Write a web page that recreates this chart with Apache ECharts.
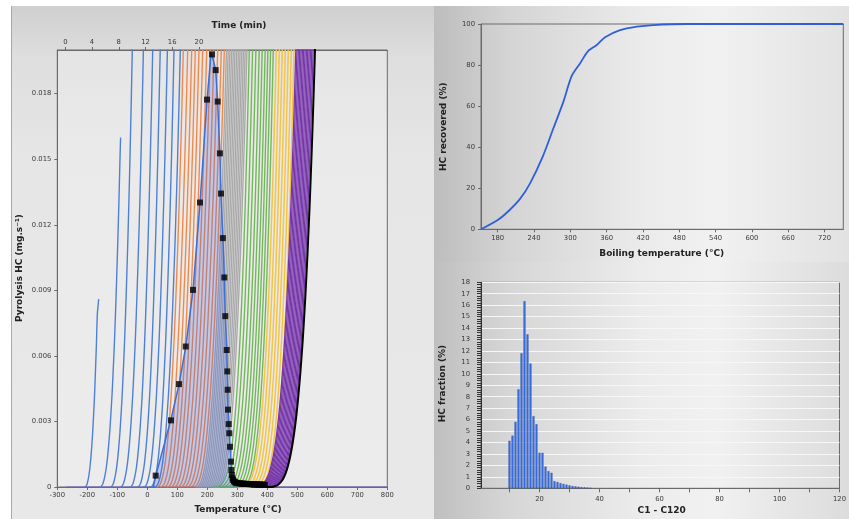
<!DOCTYPE html>
<html><head><meta charset="utf-8">
<script src="https://cdn.jsdelivr.net/npm/echarts@6/dist/echarts.min.js"></script>
<style>
html,body{margin:0;padding:0;background:#fff;}
#wrap{position:relative;width:849px;height:519px;overflow:hidden;}
.pan{position:absolute;}
#pl{left:11px;top:6px;width:423px;height:513px;border-left:1px solid #a8a8a8;background:linear-gradient(180deg,#cfcfcf 0%,#dedede 10%,#e6e6e6 30%,#e8e8e8 100%);}
#ptr{left:434px;top:6px;width:415px;height:256px;background:linear-gradient(90deg,#bdbdbd 0%,#d4d4d4 18%,#ebebeb 50%,#f1f1f1 68%,#e2e2e2 100%);}
#pbr{left:434px;top:262px;width:415px;height:257px;background:linear-gradient(90deg,#bfbfbf 0%,#d6d6d6 18%,#ececec 50%,#f1f1f1 68%,#dcdcdc 100%);}
#c{position:absolute;left:0;top:0;width:849px;height:519px;}
</style>
</head><body>
<div id="wrap"><div class="pan" id="pl"></div><div class="pan" id="ptr"></div><div class="pan" id="pbr"></div><div id="c"></div></div>
<script>
// ================= LEFT PANEL DATA =================
const tempTicks = [-300,-200,-100,0,100,200,300,400,500,600,700,800];
const timeTicks = [0,4,8,12,16,20];
const hcTicks = [0,0.003,0.006,0.009,0.012,0.015,0.018];

// curve shapes: fraction of the way from a curve's foot to where it reaches 0.02, and value
const shapeU  = [0,0.05,0.1,0.15,0.2,0.25,0.3,0.35,0.4,0.45,0.5,0.55,0.6,0.65,0.7,0.75,0.8,0.85,0.9,0.95,1,1.04];
// early curves (blue / orange / gray)
const earlyY  = [0,0.000008,0.00005,0.00014,0.00031,0.00055,0.00087,0.0013,0.00185,0.0025,0.0033,0.0042,0.0053,0.0065,0.0079,0.0095,0.0112,0.0131,0.0152,0.0175,0.02,0.0221];
// late curves (green / yellow / purple / black)
const lateY   = [0,0.000001,0.000003,0.000015,0.000044,0.000105,0.00021,0.00037,0.00061,0.00096,0.00144,0.00207,0.00287,0.00388,0.00516,0.0067,0.00856,0.01078,0.0134,0.01646,0.02,0.0232];

// foot temperature and temperature reaching 0.02, for each curve
const blueFoot   = [-210,-160,-125,-92,-60,-35,-14,8,22];
const blueTop    = [-148,-83,-50,-13,18,43,67,89,110];
const blueEndT   = [-162,-89];
const blueEndV   = [0.0086,0.016];
const orangeFoot = [30,42,53,64,75,86,97,108,119,130,141,152];
const orangeTop  = [120,134.7,148,160,172.3,184.7,198,210,222.3,234.7,246.7,256.7];
const grayFoot   = [160,166,172,178,184,190,196,202,208,214,220,226,232];
const grayTop    = [264,269.7,275.3,281,286.7,292.3,298,303.7,309.3,315,320.7,326.3,332];
const greenFoot  = [215,225,236,247,257,267,277,287,297];
const greenTop   = [340,351,362,373,383,393,402,411,420];
const yellowFoot = [300,310,320,330,340,350,360];
const yellowTop  = [430,440,450,460,470,480,489];
const purpleFoot = [345,348,352,356,360,364,368,372,376,380,384,388,391,394];
const purpleTop  = [495,499,503.5,508,512.5,517,521.5,526,530.5,535,539.5,544,548.5,553];
const blackFoot  = [395];
const blackTop   = [559];

// pyrolysis peak
const peakT = [20,28,79,105.7,128,152.3,175.7,199,213,228,234.6,242,245.6,252,256.7,260,264.7,266.7,268,269,271.3,273.3,275.7,279,280,283,290];
const peakV = [0,0.0005,0.0031,0.0047,0.0064,0.009,0.013,0.0177,0.0199,0.0191,0.0176,0.0153,0.0134,0.0114,0.0096,0.0078,0.0063,0.0053,0.0045,0.0035,0.0029,0.0025,0.0018,0.0012,0.0008,0.0003,0];

// measured points (squares)
const markT = [28,79,105.7,128,152.3,175.7,199,215.7,228,234.6,242,245.6,252,256.7,260,264.7,266.7,268,269,271.3,273.3,275.7,279,280,282,284,286,289,292,296,300,304,308,312,316,320,324,328,332,336,340,344,348,352,356,360,364,368,372,376,380,384,388,392];
const markV = [0.00052,0.00305,0.00471,0.00643,0.00902,0.01302,0.01773,0.0198,0.01908,0.01764,0.01527,0.01343,0.01139,0.00959,0.00782,0.00627,0.00529,0.00445,0.00354,0.00288,0.00246,0.00184,0.00116,0.00078,0.00055,0.0004,0.00032,0.00026,0.00022,0.0002,0.00018,0.00017,0.00016,0.00016,0.00015,0.00015,0.00015,0.00014,0.00014,0.00014,0.00013,0.00013,0.00013,0.00013,0.00012,0.00012,0.00012,0.00012,0.00011,0.00011,0.00011,0.00011,0.0001,0.0001];

// ================= TOP RIGHT DATA =================
const bpTicks = [180,240,300,360,420,480,540,600,660,720];
const bpT = [152.4,180,197.6,216.9,233.5,254.4,272,288.6,302.3,316,330,343.7,357.4,382,409.8,437,492,560,650,751];
const recovered = [0,4.5,8.8,14.8,22.4,35.4,49.2,62.2,74.7,80.8,87,89.8,93.5,97,98.7,99.5,100,100,100,100];

// ================= BOTTOM RIGHT DATA =================
const carbonTicks = [10,20,30,40,50,60,70,80,90,100,110,120];
const carbonLabels = [20,40,60,80,100,120];
const carbon = [10,11,12,13,14,15,16,17,18,19,20,21,22,23,24,25,26,27,28,29,30,31,32,33,34,35,36,37];
const fraction = [4.15,4.6,5.8,8.65,11.8,16.35,13.45,10.9,6.3,5.6,3.1,3.1,1.9,1.5,1.35,0.62,0.55,0.45,0.38,0.32,0.26,0.2,0.17,0.14,0.1,0.08,0.06,0.04];

// ================= BUILD =================
const FONT = 'DejaVu Sans';
const lblColor = '#3a3a3a';
const axisCol = '#6a6a6a';

function curvePoints(shapeY, foot, top, endT, endV) {
  const pts = [];
  for (let i = 0; i < shapeU.length; i++) {
    if (endV != null && shapeY[i] >= endV) break;
    pts.push([foot + shapeU[i] * (top - foot), shapeY[i]]);
  }
  if (endV != null) pts.push([endT, endV]);
  return pts;
}

const series = [];
function addGroup(shapeY, feet, tops, color, lw, ends) {
  tops.forEach((t, i) => {
    const eT = ends && i < ends[0].length ? ends[0][i] : null;
    const eV = ends && i < ends[1].length ? ends[1][i] : null;
    series.push({
      type: 'line', xAxisIndex: 0, yAxisIndex: 0, silent: true,
      data: curvePoints(shapeY, feet[i], t, eT, eV),
      showSymbol: false, symbol: 'none', smooth: 0.2,
      lineStyle: { color: color, width: lw }, z: 2
    });
  });
}
// baseline
series.push({type:'line', xAxisIndex:0, yAxisIndex:0, silent:true, data:[[-270,0],[800,0]], symbol:'none', lineStyle:{color:'#7a5cc0', width:1}, z:1});
addGroup(earlyY, blueFoot, blueTop, '#4d80d6', 1.4, [blueEndT, blueEndV]);
addGroup(earlyY, orangeFoot, orangeTop, '#ef8a4c', 1.4);
addGroup(earlyY, grayFoot, grayTop, '#a9a9a9', 1.4);
addGroup(lateY, greenFoot, greenTop, '#72b85a', 1.4);
addGroup(lateY, yellowFoot, yellowTop, '#f6c445', 1.5);
addGroup(lateY, purpleFoot, purpleTop, '#7636aa', 1.3);
addGroup(lateY, blackFoot, blackTop, '#000000', 2);

series.push({
  type: 'line', xAxisIndex: 0, yAxisIndex: 0, silent: true,
  data: peakT.map((t, i) => [t, peakV[i]]), symbol: 'none',
  lineStyle: { color: '#3c6ed8', width: 1.5 },
  areaStyle: { color: 'rgba(70,105,225,0.38)' }, z: 5
});
series.push({
  type: 'scatter', xAxisIndex: 0, yAxisIndex: 0, silent: true,
  data: markT.map((t, i) => [t, markV[i]]), symbol: 'rect', symbolSize: 6,
  itemStyle: { color: '#000' }, z: 6
});
series.push({
  type: 'line', xAxisIndex: 2, yAxisIndex: 1, silent: true,
  data: bpT.map((t, i) => [t, recovered[i]]), symbol: 'none', smooth: 0.3,
  lineStyle: { color: '#2f5fd8', width: 1.8 }
});
series.push({
  type: 'bar', xAxisIndex: 3, yAxisIndex: 2, silent: true,
  data: carbon.map((c, i) => [c, fraction[i]]), barWidth: 2,
  itemStyle: { color: '#3b74e8', borderColor: '#1f45a8', borderWidth: 0.4 }
});

const lab = (extra) => Object.assign({ fontFamily: FONT, fontSize: 6.8, color: lblColor }, extra || {});
const tick = (len, extra) => Object.assign({ show: true, length: len, lineStyle: { color: axisCol } }, extra || {});

const option = {
  animation: false,
  grid: [
    { left: 57.3, top: 50, width: 330, height: 437, show: true, borderColor: axisCol, borderWidth: 1, backgroundColor: 'rgba(245,245,245,0.3)' },
    { left: 481, top: 24, width: 362.3, height: 205.3, show: true, borderColor: axisCol, borderWidth: 1, backgroundColor: 'transparent' },
    { left: 481, top: 282.3, width: 360.5, height: 206, show: true, borderColor: axisCol, borderWidth: 1, backgroundColor: 'transparent' }
  ],
  xAxis: [
    { type: 'value', gridIndex: 0, position: 'bottom', min: -300, max: 800, interval: 100,
      axisLine: { onZero: false, lineStyle: { color: axisCol } }, axisTick: tick(3),
      axisLabel: lab({ margin: 5 }), splitLine: { show: false } },
    { type: 'value', gridIndex: 0, position: 'top', min: -1.2, max: 48.2,
      axisLine: { show: true, onZero: false, lineStyle: { color: axisCol } },
      axisTick: tick(3, { customValues: timeTicks }),
      axisLabel: lab({ margin: 4, customValues: timeTicks }), splitLine: { show: false } },
    { type: 'value', gridIndex: 1, min: 152.4, max: 751,
      axisLine: { onZero: false, lineStyle: { color: axisCol } },
      axisTick: tick(3, { customValues: bpTicks }),
      axisLabel: lab({ margin: 5, customValues: bpTicks }), splitLine: { show: false } },
    { type: 'value', gridIndex: 2, min: 0.5, max: 120,
      axisLine: { onZero: false, lineStyle: { color: axisCol } },
      axisTick: tick(4, { customValues: carbonTicks }),
      axisLabel: lab({ margin: 7, customValues: carbonLabels }), splitLine: { show: false } }
  ],
  yAxis: [
    { type: 'value', gridIndex: 0, min: 0, max: 0.02,
      axisLine: { show: true, onZero: false, lineStyle: { color: axisCol } },
      axisTick: tick(3, { customValues: hcTicks }),
      axisLabel: lab({ margin: 6, customValues: hcTicks, formatter: v => v === 0 ? '0' : v.toFixed(3) }),
      splitLine: { show: false } },
    { type: 'value', gridIndex: 1, min: 0, max: 100, interval: 20,
      axisLine: { show: true, onZero: false, lineStyle: { color: axisCol } }, axisTick: tick(3),
      axisLabel: lab({ margin: 6 }), splitLine: { show: false } },
    { type: 'value', gridIndex: 2, min: 0, max: 18, interval: 1,
      axisLine: { show: true, onZero: false, lineStyle: { color: '#333', width: 1 } },
      axisTick: tick(4, { lineStyle: { color: '#333' } }),
      minorTick: { show: true, splitNumber: 5, length: 4, lineStyle: { color: '#333' } },
      axisLabel: lab({ margin: 11 }),
      splitLine: { show: true, lineStyle: { color: '#f7f7f7', width: 1 } } }
  ],
  graphic: [
    { type: 'text', x: 239, y: 26, style: { text: 'Time (min)', font: 'bold 9px "DejaVu Sans"', fill: '#222', align: 'center', verticalAlign: 'middle' } },
    { type: 'text', x: 238, y: 510, style: { text: 'Temperature (°C)', font: 'bold 9px "DejaVu Sans"', fill: '#222', align: 'center', verticalAlign: 'middle' } },
    { type: 'text', x: 19.5, y: 268, rotation: Math.PI / 2, style: { text: 'Pyrolysis HC (mg.s⁻¹)', font: 'bold 9px "DejaVu Sans"', fill: '#222', align: 'center', verticalAlign: 'middle' } },
    { type: 'text', x: 443.3, y: 126.7, rotation: Math.PI / 2, style: { text: 'HC recovered (%)', font: 'bold 9px "DejaVu Sans"', fill: '#222', align: 'center', verticalAlign: 'middle' } },
    { type: 'text', x: 661.7, y: 253.3, style: { text: 'Boiling temperature (°C)', font: 'bold 9px "DejaVu Sans"', fill: '#222', align: 'center', verticalAlign: 'middle' } },
    { type: 'text', x: 442.7, y: 383.5, rotation: Math.PI / 2, style: { text: 'HC fraction (%)', font: 'bold 9px "DejaVu Sans"', fill: '#222', align: 'center', verticalAlign: 'middle' } },
    { type: 'text', x: 661.7, y: 510.7, style: { text: 'C1 - C120', font: 'bold 9px "DejaVu Sans"', fill: '#222', align: 'center', verticalAlign: 'middle' } }
  ],
  series: series
};

const chart = echarts.init(document.getElementById('c'), null, { renderer: 'canvas' });
chart.setOption(option);
</script>
</body></html>
